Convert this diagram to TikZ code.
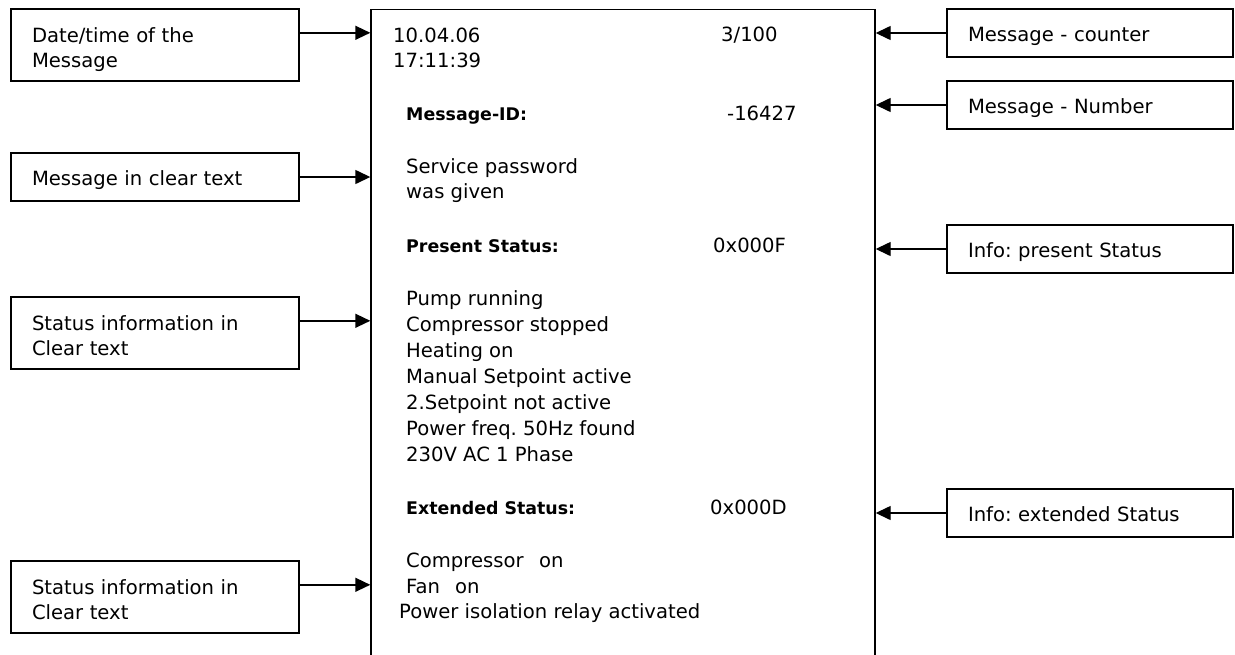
\documentclass[tikz,border=0pt]{standalone}
\usepackage{fontspec}
\setmainfont{DejaVu Sans}
\usetikzlibrary{arrows.meta}
\frenchspacing
\begin{document}
\begin{tikzpicture}[x=1pt,y=-1pt,
  every node/.style={font=\fontsize{19.6}{25.5}\selectfont},
  frame/.style={draw,line width=1.4pt,rectangle,align=left,inner xsep=21pt,inner ysep=0pt},
  onebox/.style={frame,minimum height=48pt,text height=20pt,text depth=4pt},
  twobox/.style={frame,minimum height=72pt,text height=24pt,text depth=30pt},
  leftbox/.style={minimum width=288pt,text width=246pt},
  rightbox/.style={minimum width=286pt,text width=244pt},
  feed/.style={line width=1.4pt,-{Triangle[length=15pt,width=14pt]}},
  entry/.style={anchor=base west,inner sep=0pt},
  head/.style={entry,font=\fontsize{17.4}{22}\selectfont\bfseries}]
\useasboundingbox (0,0) rectangle (1235,654);
\clip (0,0) rectangle (1235,654);

% message display panel (open at the bottom)
\node[draw,line width=1.4pt,anchor=north west,minimum width=504pt,
      minimum height=700pt,inner sep=0pt] (panel) at (370.3,8.8) {};

% explanations on the left
\node[twobox,leftbox] (l1) at (155,45)  {Date/time of the\\Message};
\node[onebox,leftbox] (l2) at (155,177) {Message in clear text};
\node[twobox,leftbox] (l3) at (155,333) {Status information in\\Clear text};
\node[twobox,leftbox] (l4) at (155,597) {Status information in\\Clear text};

% explanations on the right
\node[onebox,rightbox] (r1) at (1090,33)  {Message - counter};
\node[onebox,rightbox] (r2) at (1090,105) {Message - Number};
\node[onebox,rightbox] (r3) at (1090,249) {Info: present Status};
\node[onebox,rightbox] (r4) at (1090,513) {Info: extended Status};

% arrows into the panel
\coordinate (a1) at ([yshift=-24.5pt]l1.north east);
\coordinate (a3) at ([yshift=-24.5pt]l3.north east);
\coordinate (a4) at ([yshift=-24.5pt]l4.north east);
\draw[feed] (a1) -- (a1 -| panel.west);
\draw[feed] (l2.east) -- (l2.east -| panel.west);
\draw[feed] (a3) -- (a3 -| panel.west);
\draw[feed] (a4) -- (a4 -| panel.west);
\draw[feed] (r1.west) -- (r1.west -| panel.east);
\draw[feed] (r2.west) -- (r2.west -| panel.east);
\draw[feed] (r3.west) -- (r3.west -| panel.east);
\draw[feed] (r4.west) -- (r4.west -| panel.east);

% panel contents
\node[entry] (date)    at (393,42)   {10.04.06};
\node[entry] (time)    at (393,67.5) {17:11:39};
\node[entry] (count)   at (721,41)   {3/100};
\node[head]  (idlabel) at (406,120)  {Message-ID:};
\node[entry] (idvalue) at (727,120)  {-16427};
\node[entry] (msg1)    at (406,173)  {Service password};
\node[entry] (msg2)    at (406,198)  {was given};
\node[head]  (pslabel) at (406,252)  {Present Status:};
\node[entry] (psvalue) at (713,252)  {0x000F};
\foreach \txt [count=\i] in {Pump running,Compressor stopped,Heating on,
    Manual Setpoint active,2.Setpoint not active,Power freq. 50Hz found,
    230V AC 1 Phase}
  \node[entry] (ps\i) at (406,{305+26.1*(\i-1)}) {\txt};
\node[head]  (eslabel) at (406,514)  {Extended Status:};
\node[entry] (esvalue) at (710,514)  {0x000D};
\node[entry] (ext1)    at (406,567)  {Compressor\hspace{15.5pt}on};
\node[entry] (ext2)    at (406,593)  {Fan\hspace{15pt}on};
\node[entry] (ext3)    at (399,618)  {Power isolation relay activated};
\end{tikzpicture}
\end{document}
